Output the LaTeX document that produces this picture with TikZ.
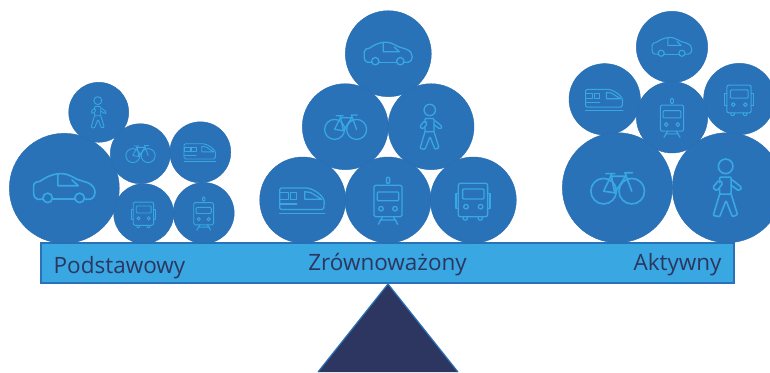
\documentclass[tikz,border=0pt]{standalone}
\usepackage{fontspec}
\setmainfont{Open Sans}
\definecolor{ballblue}{HTML}{2A72B8}
\definecolor{beamblue}{HTML}{38A7E2}
\definecolor{darkblue}{HTML}{2D3660}
\tikzset{
  icon/.style={draw=beamblue, line join=round, line cap=round},
  pics/car/.style={code={
    \draw[icon] (-17,8.5) -- (-21,8.5) .. controls (-23,8) and (-24,6) .. (-24,4) -- (-24,-2) .. controls (-24,-4.5) and (-21,-5.5) .. (-19,-5.5) .. controls (-15,-8) and (-10,-11.5) .. (-2,-11.5) .. controls (3,-11.5) and (8,-8) .. (10,-7) -- (18,-4.5) .. controls (22,-3) and (24,0) .. (24,3) .. controls (24,6) and (22,8.5) .. (20,8.5) -- (16,8.5);
    \draw[icon] (-9,8.5) -- (8,8.5);
    \draw[icon] (-13,7.5) circle (3.7) (12,7.5) circle (3.7);
    \draw[icon] (-5,-11) -- (-5,-2) -- (11,-2) -- (6,-6.5);
  }},
  pics/bike/.style={code={
    \draw[icon] (-10.7,2.7) circle (10) (11.3,2.7) circle (10);
    \draw[icon] (-10.7,2.7) -- (-5,-9) -- (6.5,-9) -- (-2,4) -- cycle;
    \draw[icon] (-9,-11) -- (-2,-11) (-5,-11) -- (-2,4);
    \draw[icon] (12,-11.7) -- (6,-11.7) -- (11.3,2.7);
  }},
  pics/walker/.style={code={
    \draw[icon] (-1.3,-16.7) circle (5.7);
    \draw[icon, rounded corners=1pt] (-6,-4) -- (-6,-8.3) -- (3,-8.3) -- (3,5) -- (-6,5) -- (-6,1);
    \draw[icon, rounded corners=1pt] (-6,5) -- (-11,21.7) -- (-6,22.7) -- (-1,10) -- (4,22.7) -- (8,21) -- (3,5);
    \draw[icon, rounded corners=1.5pt] (-11.5,0) -- (-6.5,-6) -- (-3.5,-3.5) -- (-8,2.5) -- cycle;
    \draw[icon, rounded corners=1.5pt] (4,-6) -- (11.5,0) -- (9,2.5) -- (3,-2);
  }},
  pics/train/.style={code={
    \draw[icon, rounded corners=1.5pt] (-23,-12) -- (2,-12) .. controls (10,-12) and (21.5,-4) .. (21.5,3) -- (21,9.5) -- (-23,9.5) -- cycle;
    \draw[icon] (-23,-7.3) rectangle (-14.5,-0.7) (-12,-7.3) rectangle (-6,-0.7);
    \draw[icon] (2,-8.3) -- (2,-0.7) -- (19,-0.7) -- (8,-7.5) -- cycle;
    \draw[icon] (-23,4) -- (-6,4) (-23,13.3) -- (22,13.3);
  }},
  pics/tram/.style={code={
    \draw[icon, rounded corners=1.5pt] (-14,-14.7) rectangle (14,16.7);
    \draw[icon, rounded corners=1pt] (-10.7,-8) rectangle (10.7,0.7);
    \draw[icon] (-7,8.7) circle (2.3) (7,8.7) circle (2.3);
    \draw[icon, rounded corners=1pt] (-1.6,-22.7) rectangle (1.6,-16.7);
    \draw[icon] (-5.3,16.7) -- (-9.7,24.3) (5.3,16.7) -- (9.7,24.3) (-8,20) -- (8,20);
  }},
  pics/bus/.style={code={
    \draw[icon, rounded corners=2pt] (-15,-16.7) rectangle (14.3,16.7);
    \draw[icon, rounded corners=1pt] (-10.7,-11) rectangle (10.7,-1);
    \draw[icon] (-7.3,6.7) circle (2.3) (7.3,6.7) circle (2.3);
    \draw[icon] (-15,-6.7) -- (-17.3,-6.7) -- (-17.3,8.3) -- (-15,8.3) (14.3,-6.7) -- (16.6,-6.7) -- (16.6,8.3) -- (14.3,8.3);
    \draw[icon, rounded corners=1pt] (-10,16.7) -- (-10,20) -- (-6,20) -- (-6,16.7) (5,16.7) -- (5,20) -- (9,20) -- (9,16.7);
  }},
}

\begin{document}
\begin{tikzpicture}[x=1pt,y=-1pt]
\tikzstyle{ball} = [circle, fill=ballblue, draw=ballblue!95!black, inner sep=0pt, outer sep=0pt]
\tikzstyle{beamlabel} = [anchor=base, text=darkblue, font=\fontsize{22.5}{26}\selectfont, inner sep=0pt]
\path[use as bounding box, clip] (0,0) rectangle (770,372);

% Pivot
\coordinate (apex) at (388,284);
\coordinate (baseL) at (318,372);
\coordinate (baseR) at (458,372);
\draw[fill=darkblue, draw=ballblue, line width=1.2pt] (baseL) -- (apex) -- (baseR);

% Beam
\node[draw=ballblue, fill=beamblue, minimum width=693, minimum height=40, inner sep=0pt, outer sep=0pt, line width=1.2pt] (beam) at (387.5,263) {};
\node[beamlabel] (podstawowy) at (119.5,273) {Podstawowy};
\node[beamlabel] (zrownowazony) at (387.5,270) {Zrównoważony};
\node[beamlabel] (aktywny) at (677.5,270) {Aktywny};

% Balls
\foreach \name/\kind/\x/\y/\r in {
  carA/car/64.3/188.3/55, walkerA/walker/98.7/112.3/30, bikeA/bike/140.3/153.7/30,
  trainA/train/200.3/152.3/30.5, busA/bus/143.7/213.7/30, tramA/tram/203.7/213/30.5,
  carB/car/388.3/53.7/43, bikeB/bike/345.3/126.7/43, walkerB/walker/431/126.7/43,
  trainB/train/302.7/200/43, tramB/tram/388/200/43, busB/bus/473.3/200/43,
  carC/car/672/47/35.7, trainC/train/604.7/99.3/35.7, busC/bus/739.3/99/35.7,
  tramC/tram/672/117.3/35.7, bikeC/bike/617.3/187.7/55, walkerC/walker/727.3/187.7/55}
{
  \node[ball, minimum size=2*\r] (\name) at (\x,\y) {};
  \pic[scale=\r/43, line width=\r*0.03pt] at (\name) {\kind};
}
\end{tikzpicture}
\end{document}
